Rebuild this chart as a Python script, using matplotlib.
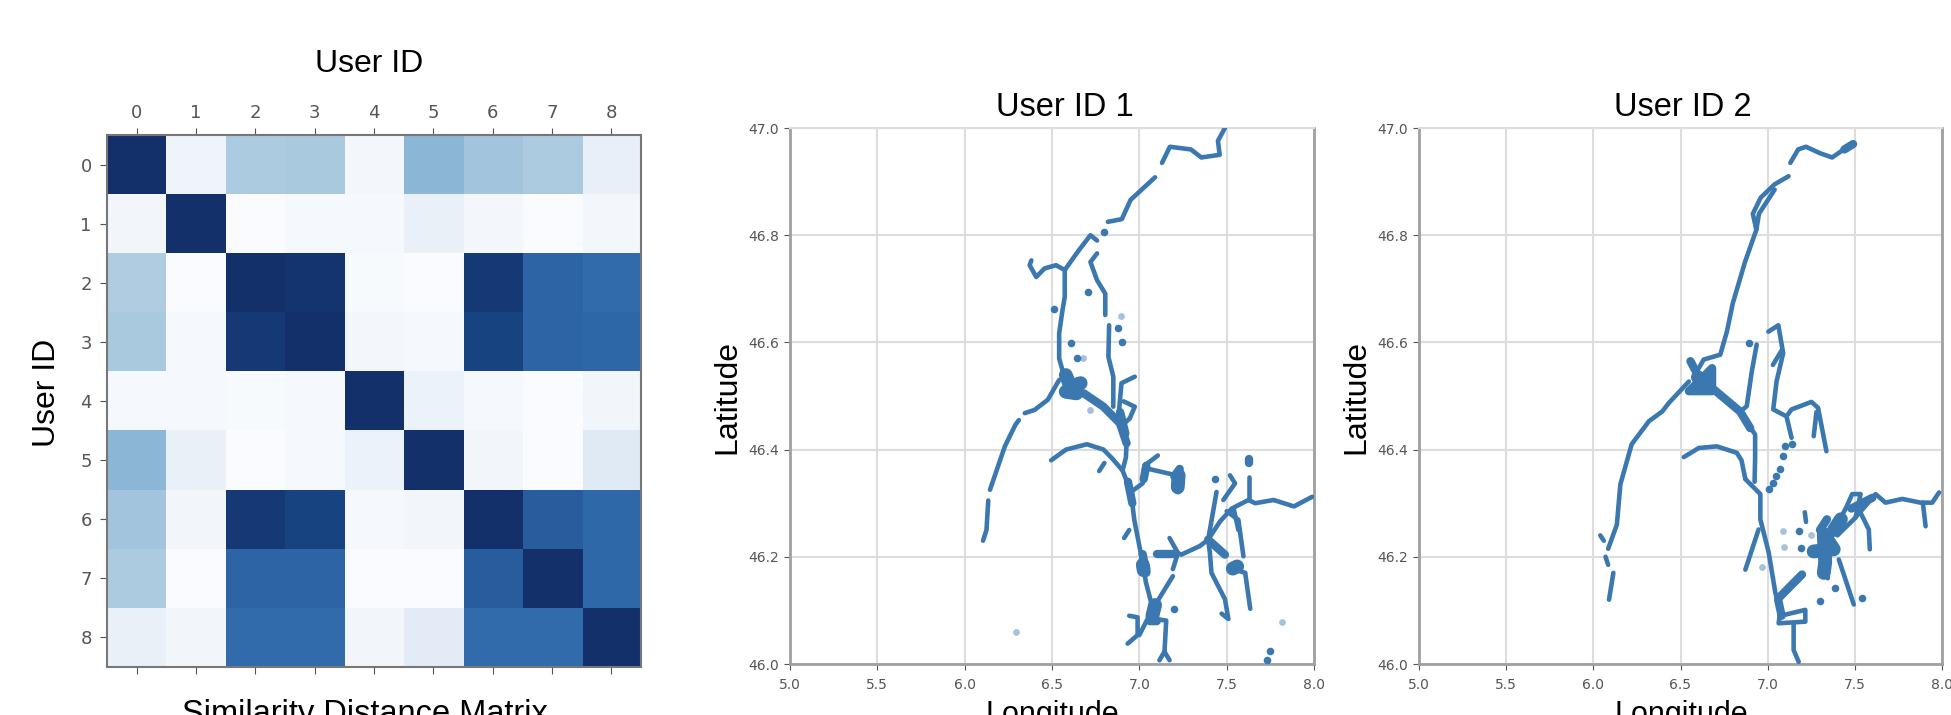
#!/usr/bin/env python3
# Similarity distance matrix next to the GPS traces of users 1 and 2

import numpy as np
import matplotlib
matplotlib.use('Agg')
import matplotlib.pyplot as plt
from matplotlib.colors import LinearSegmentedColormap

W = 1951
H = 715
DOT_COLOR = '#3b78b0'
FONT = 'Liberation Sans'

user_ids = [0, 1, 2, 3, 4, 5, 6, 7, 8]

similarity = [
    [1.00, .06, .32, .33, .04, .42, .35, .32, .10],
    [.05, 1.00, .01, .03, .03, .09, .04, .01, .04],
    [.31, .01, 1.00, .98, .02, .01, .96, .80, .76],
    [.33, .03, .96, 1.00, .04, .03, .92, .80, .78],
    [.03, .03, .02, .03, 1.00, .08, .03, .01, .05],
    [.42, .09, .01, .03, .08, 1.00, .05, .01, .13],
    [.35, .05, .96, .92, .03, .05, 1.00, .84, .77],
    [.32, .01, .80, .80, .01, .01, .84, 1.00, .77],
    [.09, .05, .76, .76, .05, .12, .76, .76, 1.00],
]

# colours as they look in the picture, plain Blues is too saturated
matrix_stops = [(0, '#fbfdff'), (.1, '#e8eff8'), (.32, '#adcbe0'), (.42, '#8bb6d6'),
                (.77, '#3069aa'), (.84, '#285f9f'), (.92, '#194482'), (1, '#13306a')]

lon_ticks = [5.0, 5.5, 6.0, 6.5, 7.0, 7.5, 8.0]
lat_ticks = [46.0, 46.2, 46.4, 46.6, 46.8, 47.0]

# Traces are (lon, lat) vertices
user1_tracks = [
    [(7.49, 47.0), (7.45, 46.976), (7.46, 46.95), (7.355, 46.945), (7.295, 46.96), (7.175, 46.965), (7.13, 46.935)],
    [(7.09, 46.908), (6.95, 46.866), (6.90, 46.83), (6.82, 46.825)],
    [(6.758, 46.79), (6.72, 46.80), (6.654, 46.772), (6.573, 46.735), (6.523, 46.744), (6.457, 46.738), (6.41, 46.722), (6.372, 46.744), (6.382, 46.753)],
    [(6.573, 46.735), (6.573, 46.685), (6.56, 46.66), (6.541, 46.617), (6.541, 46.57), (6.56, 46.548)],
    [(6.758, 46.766), (6.72, 46.75), (6.758, 46.716), (6.805, 46.691), (6.805, 46.651)],
    [(6.827, 46.632), (6.823, 46.573), (6.851, 46.536), (6.851, 46.48)],
    [(6.88, 46.46), (6.898, 46.524), (6.974, 46.536)],
    [(6.91, 46.49), (6.974, 46.48), (6.945, 46.458), (6.90, 46.445)],
    [(6.541, 46.53), (6.476, 46.493), (6.40, 46.474), (6.344, 46.468)],
    [(6.31, 46.455), (6.29, 46.446), (6.23, 46.406), (6.145, 46.325)],
    [(6.135, 46.305), (6.125, 46.25), (6.105, 46.23)],
    [(6.495, 46.38), (6.58, 46.40), (6.70, 46.41), (6.795, 46.40), (6.846, 46.383), (6.904, 46.361)],
    [(6.927, 46.412), (6.923, 46.385), (6.904, 46.361), (6.952, 46.321), (6.971, 46.269), (7.019, 46.189), (7.038, 46.152), (7.077, 46.103), (7.0, 46.054)],
    [(6.952, 46.321), (7.019, 46.337), (7.029, 46.370), (7.106, 46.389)],
    [(7.04, 46.365), (7.212, 46.352)],
    [(6.913, 46.235), (6.942, 46.25)],
    [(6.77, 46.36), (6.80, 46.375)],
    [(7.077, 46.103), (7.192, 46.164)],
    [(6.942, 46.09), (6.99, 46.087), (6.99, 46.054), (6.933, 46.038)],
    [(7.077, 46.085), (7.154, 46.081), (7.144, 46.023), (7.115, 46.007)],
    [(7.144, 46.023), (7.173, 46.007)],
    [(7.106, 46.204), (7.221, 46.207), (7.173, 46.235)],
    [(7.221, 46.207), (7.192, 46.177)],
    [(7.221, 46.207), (7.24, 46.204), (7.346, 46.22), (7.394, 46.232), (7.442, 46.321)],
    [(7.394, 46.232), (7.404, 46.207), (7.413, 46.17), (7.49, 46.121), (7.51, 46.084), (7.471, 46.094)],
    [(7.394, 46.232), (7.462, 46.266), (7.529, 46.29), (7.625, 46.306), (7.663, 46.3), (7.769, 46.306), (7.885, 46.294), (7.99, 46.312)],
    [(7.625, 46.306), (7.625, 46.349)],
    [(7.481, 46.306), (7.548, 46.337), (7.519, 46.352)],
    [(7.50, 46.285), (7.567, 46.269), (7.596, 46.201)],
    [(7.54, 46.29), (7.567, 46.25)],
    [(7.606, 46.17), (7.635, 46.103)],
    [(7.538, 46.177), (7.606, 46.17)],
]
# Fatter strokes where the points pile up
user1_smears = [
    [(6.682, 46.505), (6.795, 46.48), (6.889, 46.449), (6.927, 46.412)],
    [(6.935, 46.34), (6.96, 46.30)],
    [(7.20, 46.35), (7.231, 46.364), (7.221, 46.324)],
    [(7.019, 46.205), (7.04, 46.17)],
    [(7.04, 46.37), (7.025, 46.345)],
    [(7.10, 46.205), (7.20, 46.205)],
    [(7.394, 46.232), (7.49, 46.204)],
    [(7.625, 46.383), (7.625, 46.375)],
    [(6.89, 46.47), (6.92, 46.43)],
    [(7.08, 46.11), (7.06, 46.08), (7.10, 46.08)],
]
user1_blobs = [
    [(6.579, 46.539), (6.607, 46.517), (6.664, 46.524), (6.579, 46.508), (6.64, 46.505)],
    [(7.225, 46.352), (7.22, 46.33)],
    [(7.535, 46.178), (7.56, 46.182)],
    [(7.02, 46.185), (7.025, 46.175)],
    [(7.075, 46.09), (7.09, 46.11)],
]
user1_dots = [
    (6.80, 46.806), (6.705, 46.694), (6.88, 46.627), (6.902, 46.6), (6.513, 46.662), (6.607, 46.598),
    (6.645, 46.571), (7.433, 46.346), (7.198, 46.102), (7.75, 46.025), (7.731, 46.007),
]
user1_faint_dots = [
    (6.295, 46.06), (7.817, 46.079), (6.897, 46.65), (6.716, 46.474), (6.68, 46.57),
]

user2_tracks = [
    [(7.48, 46.97), (7.37, 46.945), (7.30, 46.953), (7.22, 46.965), (7.175, 46.96), (7.13, 46.935)],
    [(7.12, 46.91), (7.04, 46.895), (6.96, 46.87), (6.915, 46.84), (6.935, 46.81), (6.87, 46.75), (6.80, 46.673), (6.766, 46.62), (6.728, 46.577), (6.633, 46.568), (6.605, 46.552)],
    [(7.04, 46.885), (6.95, 46.84), (6.935, 46.81)],
    [(6.548, 46.527), (6.433, 46.487), (6.395, 46.471), (6.319, 46.453), (6.22, 46.41), (6.155, 46.335), (6.135, 46.26), (6.085, 46.215)],
    [(6.07, 46.2), (6.085, 46.185)],
    [(6.115, 46.17), (6.09, 46.12)],
    [(6.04, 46.24), (6.06, 46.23)],
    [(6.842, 46.471), (6.928, 46.428), (6.928, 46.384), (6.925, 46.34)],
    [(6.872, 46.345), (6.958, 46.317), (6.958, 46.27), (7.006, 46.208), (7.044, 46.133), (7.073, 46.101), (7.063, 46.076), (7.216, 46.079), (7.216, 46.101), (7.10, 46.092)],
    [(7.149, 46.076), (7.149, 46.026), (7.178, 46.004)],
    [(6.519, 46.386), (6.605, 46.403), (6.709, 46.406), (6.823, 46.394), (6.85, 46.38), (6.872, 46.345)],
    [(6.937, 46.596), (6.909, 46.546), (6.88, 46.481), (6.842, 46.471)],
    [(7.004, 46.62), (7.061, 46.632), (7.089, 46.58), (7.051, 46.527), (7.032, 46.475), (7.108, 46.462), (7.137, 46.475), (7.251, 46.489), (7.289, 46.478), (7.337, 46.397)],
    [(7.108, 46.462), (7.137, 46.422)],
    [(7.28, 46.47), (7.264, 46.425)],
    [(7.08, 46.585), (7.03, 46.558)],
    [(6.948, 46.251), (6.872, 46.176)],
    [(7.213, 46.283), (7.22, 46.265)],
    [(7.446, 46.289), (7.485, 46.317), (7.533, 46.317), (7.504, 46.273)],
    [(7.38, 46.25), (7.446, 46.289)],
    [(7.40, 46.24), (7.494, 46.27), (7.561, 46.295), (7.619, 46.317), (7.676, 46.301), (7.772, 46.308), (7.877, 46.301), (7.944, 46.301), (7.983, 46.32)],
    [(7.89, 46.301), (7.906, 46.257)],
    [(7.533, 46.282), (7.58, 46.251), (7.586, 46.214)],
    [(7.408, 46.195), (7.494, 46.111)],
    [(7.335, 46.20), (7.345, 46.16)],
]
user2_smears = [
    [(6.681, 46.515), (6.842, 46.471), (6.90, 46.44)],
    [(6.557, 46.565), (6.614, 46.53), (6.548, 46.509), (6.681, 46.509), (6.681, 46.552), (6.614, 46.53)],
    [(7.063, 46.123), (7.197, 46.167)],
    [(7.44, 46.96), (7.49, 46.97)],
    [(7.06, 46.12), (7.08, 46.09)],
    [(7.48, 46.29), (7.60, 46.31)],
    [(7.30, 46.25), (7.34, 46.27)],
]
user2_blobs = [
    [(6.60, 46.535), (6.625, 46.525)],
    [(7.264, 46.21), (7.379, 46.214), (7.322, 46.242), (7.33, 46.19), (7.322, 46.17)],
    [(7.38, 46.25), (7.42, 46.27)],
]
user2_dots = [
    (7.542, 46.123), (7.389, 46.142), (7.303, 46.117), (7.178, 46.249), (7.192, 46.216), (6.895, 46.599),
    (7.073, 46.364), (7.05, 46.35), (7.03, 46.338), (7.006, 46.326), (7.089, 46.388), (7.099, 46.406),
    (7.137, 46.41),
]
user2_faint_dots = [
    (7.088, 46.249), (7.096, 46.219), (6.967, 46.181), (7.25, 46.24),
]


def px_axes(fig, left, right, top, bottom):
    return fig.add_axes([left/W, 1 - bottom/H, (right - left)/W, (bottom - top)/H])


def draw_strokes(ax, strokes, width):
    for t in strokes:
        t = np.array(t)
        ax.plot(t[:, 0], t[:, 1], color=DOT_COLOR, lw=width, solid_capstyle='round', solid_joinstyle='round', zorder=3)


def draw_user(ax, tracks, smears, blobs, dots, faint):
    draw_strokes(ax, tracks, 3.3)
    draw_strokes(ax, smears, 6)
    draw_strokes(ax, blobs, 10)
    dots = np.array(dots)
    faint = np.array(faint)
    ax.scatter(dots[:, 0], dots[:, 1], s=30, color=DOT_COLOR, linewidths=0, zorder=3)
    ax.scatter(faint[:, 0], faint[:, 1], s=24, color=DOT_COLOR, alpha=.45, linewidths=0, zorder=3)
    ax.set_xlim(5.0, 8.0)
    ax.set_ylim(46.0, 47.0)
    ax.set_xticks(lon_ticks)
    ax.set_yticks(lat_ticks)
    ax.tick_params(labelsize=10, colors='#555555', length=4)
    ax.tick_params(axis='x', pad=6)
    ax.tick_params(axis='y', pad=4)
    ax.grid(True, color='#dddddd', lw=1.5)
    ax.set_axisbelow(True)
    for name in ['bottom', 'left', 'right']:
        ax.spines[name].set_color('#a0a0a0')
        ax.spines[name].set_linewidth(2)
    ax.spines['top'].set_color('#dddddd')
    ax.spines['top'].set_linewidth(1.5)


fig = plt.figure(figsize=(W/100, H/100), dpi=100)

# a) Similarity matrix
matrix_cmap = LinearSegmentedColormap.from_list('matrix', matrix_stops)
ax0 = px_axes(fig, 107, 641, 135, 667)
ax0.imshow(similarity, cmap=matrix_cmap, vmin=0, vmax=1, aspect='auto', interpolation='nearest')
ax0.set_xticks(range(len(user_ids)))
ax0.set_yticks(range(len(user_ids)))
ax0.set_xticklabels(user_ids)
ax0.set_yticklabels(user_ids)
ax0.tick_params(top=True, labeltop=True, bottom=True, labelbottom=False, labelsize=13, colors='#555555', length=5)
ax0.tick_params(axis='x', pad=4)
ax0.tick_params(axis='y', pad=6)
for s in ax0.spines.values():
    s.set_color('#777777')
    s.set_linewidth(1.5)
fig.text(369/W, 1 - 64/H, 'User ID', fontsize=23, family=FONT, ha='center', va='center')
fig.text(47/W, 1 - 393/H, 'User ID', fontsize=23, family=FONT, ha='center', va='center', rotation=90)
fig.text(365/W, 1 - 723/H, 'Similarity Distance Matrix', fontsize=23.5, family=FONT, ha='center', va='baseline')

# b) User traces
ax1 = px_axes(fig, 790, 1314, 128, 664)
draw_user(ax1, user1_tracks, user1_smears, user1_blobs, user1_dots, user1_faint_dots)
ax2 = px_axes(fig, 1419, 1942, 128, 664)
draw_user(ax2, user2_tracks, user2_smears, user2_blobs, user2_dots, user2_faint_dots)

fig.text(1065/W, 1 - 107/H, 'User ID 1', fontsize=23.5, family=FONT, ha='center', va='center')
fig.text(1683/W, 1 - 107/H, 'User ID 2', fontsize=23.5, family=FONT, ha='center', va='center')
fig.text(1052/W, 1 - 723/H, 'Longitude', fontsize=22, family=FONT, ha='center', va='baseline')
fig.text(1681/W, 1 - 723/H, 'Longitude', fontsize=22, family=FONT, ha='center', va='baseline')
fig.text(727/W, 1 - 397/H, 'Latitude', fontsize=23, family=FONT, ha='center', va='center', rotation=90)
fig.text(1356/W, 1 - 397/H, 'Latitude', fontsize=23, family=FONT, ha='center', va='center', rotation=90)

fig.savefig('out.png', dpi=100)
